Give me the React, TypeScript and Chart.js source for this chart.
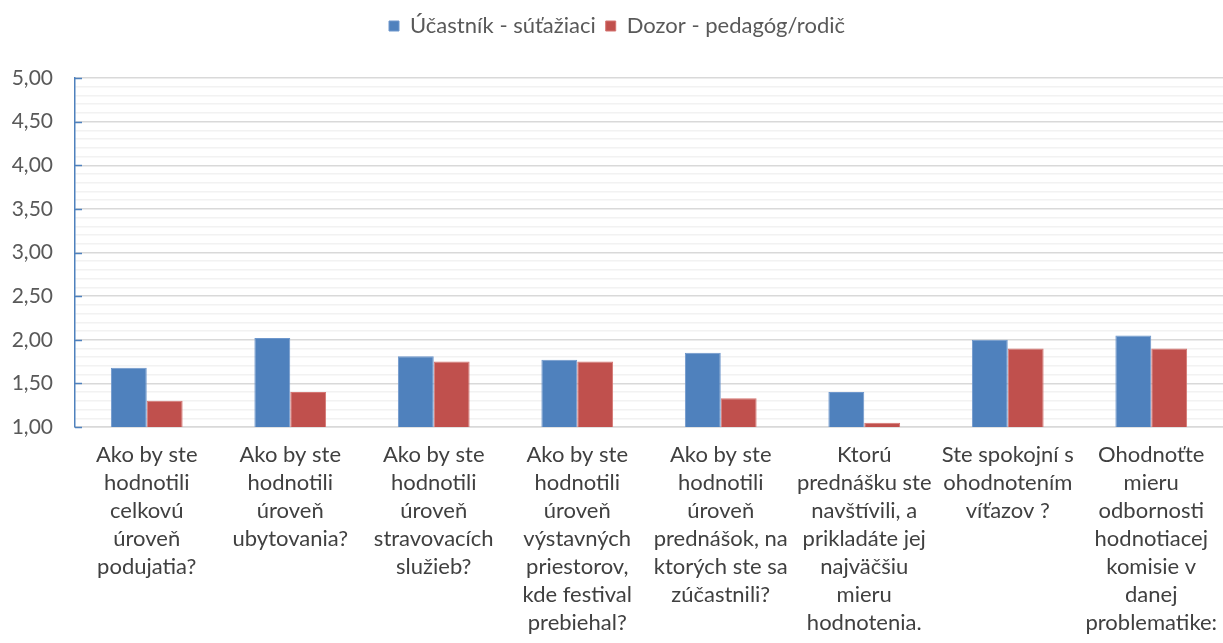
import React, { useEffect, useRef } from "react";
import { Chart, registerables } from "chart.js";

Chart.register(...registerables);

const categories: string[][] = [
  ["Ako by ste", "hodnotili", "celkovú", "úroveň", "podujatia?"],
  ["Ako by ste", "hodnotili", "úroveň", "ubytovania?"],
  ["Ako by ste", "hodnotili", "úroveň", "stravovacích", "služieb?"],
  ["Ako by ste", "hodnotili", "úroveň", "výstavných", "priestorov,", "kde festival", "prebiehal?"],
  ["Ako by ste", "hodnotili", "úroveň", "prednášok, na", "ktorých ste sa", "zúčastnili?"],
  ["Ktorú", "prednášku ste", "navštívili, a", "prikladáte jej", "najväčšiu", "mieru", "hodnotenia."],
  ["Ste spokojní s", "ohodnotením", "víťazov ?"],
  ["Ohodnoťte", "mieru", "odbornosti", "hodnotiacej", "komisie v", "danej", "problematike:"],
];

const seriesNames = ["Účastník - súťažiaci", "Dozor - pedagóg/rodič"];
const participantValues = [1.68, 2.02, 1.81, 1.77, 1.85, 1.40, 2.00, 2.05];
const supervisorValues = [1.30, 1.40, 1.75, 1.75, 1.33, 1.05, 1.90, 1.90];

const yMin = 1;
const yMax = 5;
const yStep = 0.1;

const FONT = "Lato, 'Noto Sans', sans-serif";

export default function App() {
  const ref = useRef<HTMLCanvasElement | null>(null);

  useEffect(() => {
    document.body.style.margin = "0";
    const canvas = ref.current;
    if (!canvas) return;

    const innerTicks = {
      id: "innerTicks",
      afterDatasetsDraw(chart: any) {
        const y = chart.scales.y;
        const ctx = chart.ctx;
        const x0 = chart.chartArea.left;
        ctx.save();
        ctx.strokeStyle = "#4F81BD";
        ctx.lineWidth = 1.5;
        for (let v = yMin; v <= yMax + 1e-9; v += 0.5) {
          const py = Math.round(y.getPixelForValue(v)) + 0.5;
          ctx.beginPath();
          ctx.moveTo(x0, py);
          ctx.lineTo(x0 + 7, py);
          ctx.stroke();
        }
        ctx.restore();
      },
    };

    const isMajor = (v: number) => Math.abs(v * 2 - Math.round(v * 2)) < 1e-6;

    const chart = new Chart(canvas, {
      type: "bar",
      data: {
        labels: categories,
        datasets: [
          {
            label: seriesNames[0],
            data: participantValues,
            backgroundColor: "#4F81BD",
            borderColor: "#6E97CC",
            borderWidth: 1,
            categoryPercentage: 0.5,
            barPercentage: 1,
          },
          {
            label: seriesNames[1],
            data: supervisorValues,
            backgroundColor: "#C0504D",
            borderColor: "#D57572",
            borderWidth: 1,
            categoryPercentage: 0.5,
            barPercentage: 1,
          },
        ],
      },
      options: {
        animation: false,
        responsive: false,
        maintainAspectRatio: false,
        layout: { padding: { left: 11, right: 0, top: 5, bottom: 0 } },
        plugins: {
          tooltip: { enabled: false },
          legend: {
            position: "top",
            labels: {
              boxWidth: 10,
              boxHeight: 10,
              color: "#595959",
              font: { family: FONT, size: 22 },
              padding: 10,
            },
          },
          title: {
            display: true,
            text: "",
            weight: 500,
            font: { size: 10, lineHeight: 1.2 },
            padding: { top: 8, bottom: 11 },
          },
        },
        scales: {
          x: {
            grid: { display: false, drawTicks: false },
            border: { display: true, color: "#D9D9D9", width: 1.5 },
            ticks: {
              color: "#404040",
              font: { family: FONT, size: 22, lineHeight: 1.275 },
              maxRotation: 0,
              autoSkip: false,
              padding: 14,
            },
            afterFit(scale: any) {
              scale.height = 216;
              scale.paddingLeft = 0;
              scale.paddingRight = 0;
            },
          },
          y: {
            min: yMin,
            max: yMax,
            grid: {
              color: (c: any) => (isMajor(c.tick.value) ? "#D9D9D9" : "#F2F2F2"),
              lineWidth: 1.5,
              drawTicks: false,
            },
            border: { display: true, color: "#4F81BD", width: 1.5 },
            ticks: {
              stepSize: yStep,
              autoSkip: false,
              color: "#595959",
              font: { family: FONT, size: 21 },
              padding: 22,
              callback: (v: any) => (isMajor(Number(v)) ? Number(v).toFixed(2).replace(".", ",") : ""),
            },
            afterFit(scale: any) {
              scale.width = 64;
              scale.paddingTop = 0;
              scale.paddingBottom = 0;
            },
          },
        },
      },
      plugins: [innerTicks],
    });
    return () => chart.destroy();
  }, []);

  return (
    <div style={{ position: "fixed", left: 0, top: 0, width: 1223, height: 643, overflow: "hidden", background: "#fff" }}>
      <canvas ref={ref} width={1223} height={643} style={{ display: "block" }} />
    </div>
  );
}
